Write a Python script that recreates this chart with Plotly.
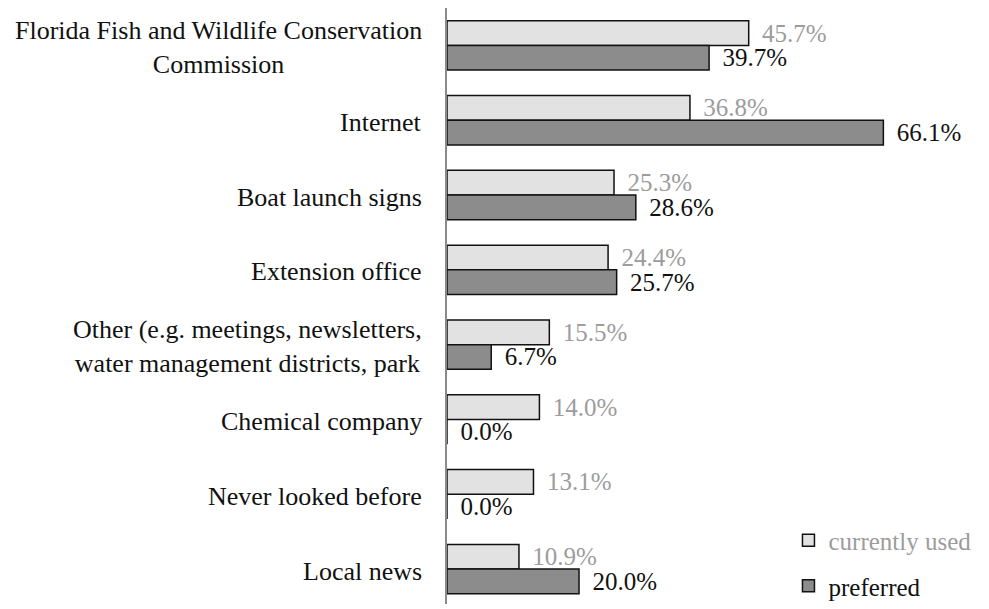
import plotly.graph_objects as go

categories = [
    "Florida Fish and Wildlife Conservation<br>Commission",
    "Internet",
    "Boat launch signs",
    "Extension office",
    "Other (e.g. meetings, newsletters,<br>water management districts, park",
    "Chemical company",
    "Never looked before",
    "Local news",
]
currently_used = [45.7, 36.8, 25.3, 24.4, 15.5, 14.0, 13.1, 10.9]
preferred = [39.7, 66.1, 28.6, 25.7, 6.7, 0.0, 0.0, 20.0]
series_names = ["currently used", "preferred"]

FONT = "Liberation Serif"
GREY_TXT = "#9c9c9c"
idx = list(range(len(categories)))

fig = go.Figure()
fig.add_trace(go.Bar(
    y=idx, x=currently_used, orientation="h",
    name='<span style="color:%s">%s</span>' % (GREY_TXT, series_names[0]),
    legendgroup="a",
    marker=dict(color="#e2e2e2", line=dict(color="#111111", width=1.5)),
    texttemplate="\u2005\u2006%{x:.1f}%", textposition="outside", constraintext="none",
    textfont=dict(family=FONT, size=25, color=GREY_TXT),
    cliponaxis=False, hoverinfo="skip",
))
fig.add_trace(go.Bar(
    y=idx, x=preferred, orientation="h",
    name=series_names[1], legendgroup="b",
    marker=dict(color="#8c8c8c", line=dict(color="#111111", width=1.5)),
    texttemplate="\u2005\u2006%{x:.1f}%", textposition="outside", constraintext="none",
    textfont=dict(family=FONT, size=25, color="#111111"),
    cliponaxis=False, hoverinfo="skip",
))

for i, c in enumerate(categories):
    fig.add_annotation(
        x=-0.043, xref="paper", y=i, yref="y", text=c, showarrow=False,
        xanchor="right", yanchor="middle", align="center", yshift=-2,
        font=dict(family=FONT, size=26, color="#111111"),
    )

fig.update_layout(
    width=989, height=609,
    margin=dict(l=447, r=0, t=8, b=0, pad=0),
    paper_bgcolor="white", plot_bgcolor="white",
    barmode="group", bargap=0.34, bargroupgap=0,
    font=dict(family=FONT, size=25, color="#111111"),
    showlegend=True,
    legend=dict(x=0.63, y=0.145, xanchor="left", yanchor="top",
                bgcolor="rgba(0,0,0,0)", tracegroupgap=10,
                font=dict(family=FONT, size=25)),
)
fig.update_xaxes(range=[0, 82.1], visible=False, showgrid=False, fixedrange=True)
fig.update_yaxes(range=[7.467, -0.5], showticklabels=False, showgrid=False,
                 zeroline=False, showline=True, linecolor="#8a8a8a", linewidth=2,
                 ticks="", fixedrange=True)

fig.write_html("out.html", config={"displayModeBar": False},
               post_script="document.body.style.margin='0px';")
